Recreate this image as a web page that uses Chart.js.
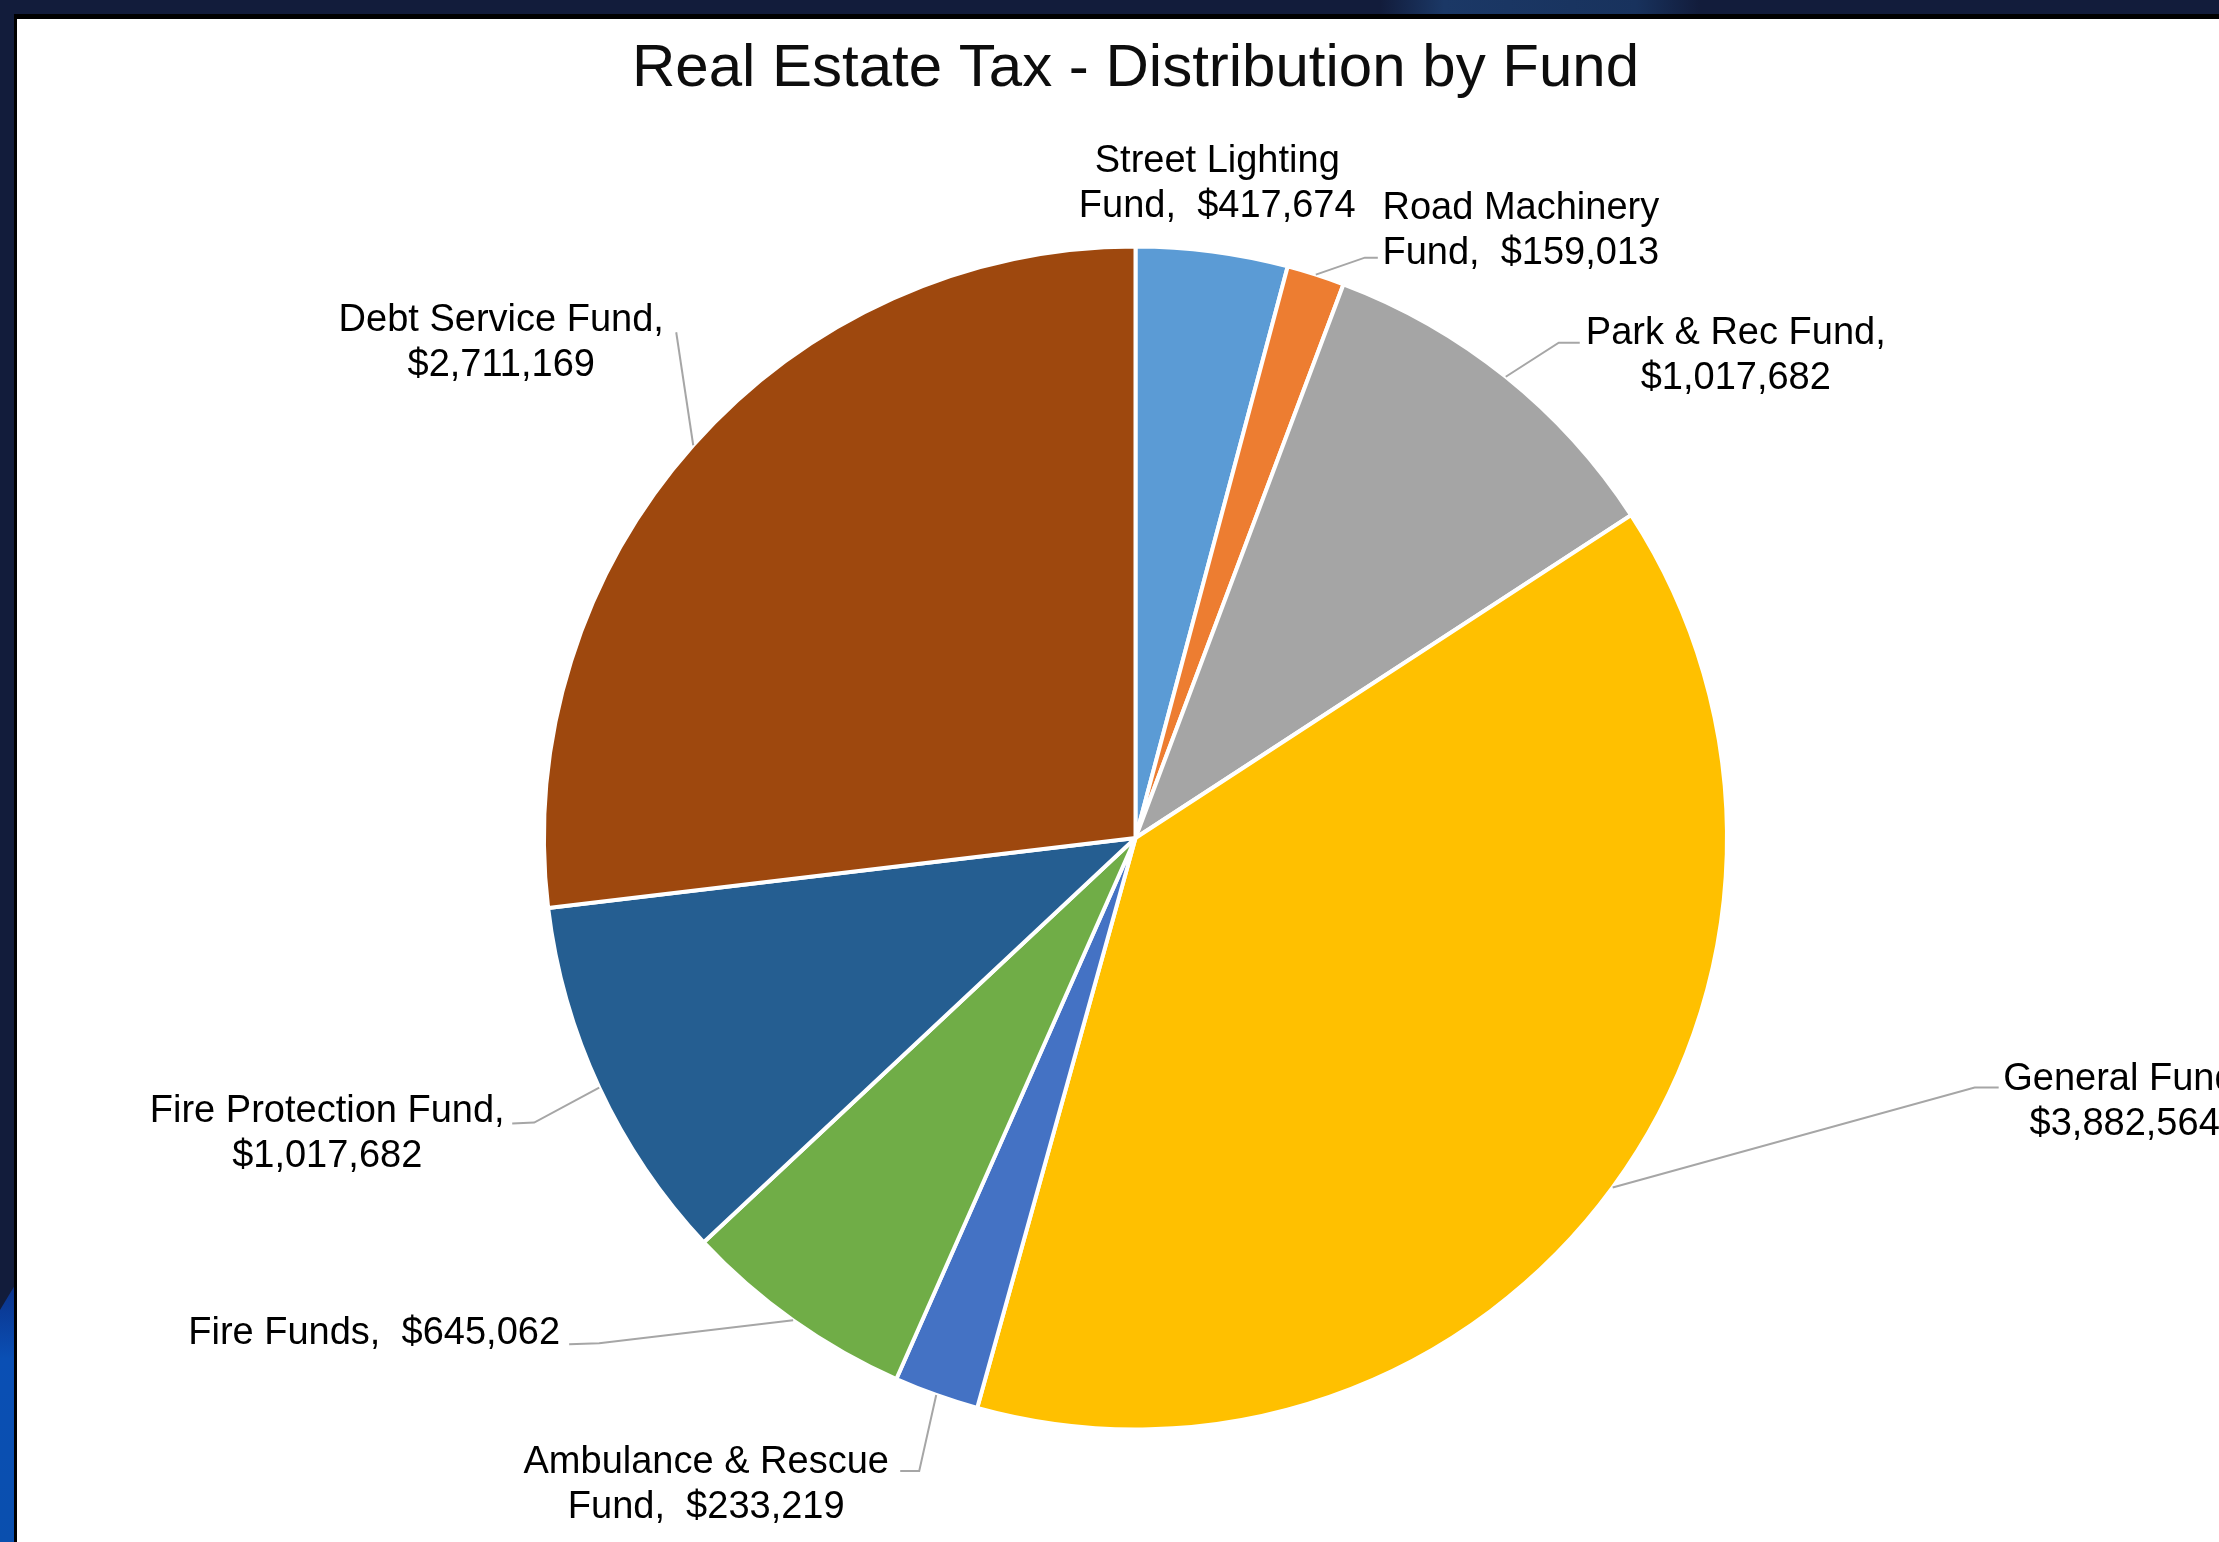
<!DOCTYPE html>
<html>
<head>
<meta charset="utf-8">
<script src="https://cdn.jsdelivr.net/npm/chart.js@4.4.1/dist/chart.umd.min.js"></script>
<style>
  html, body { margin: 0; padding: 0; background: #121c3b; }
  #wrap { width: 2219px; height: 1542px; }
</style>
</head>
<body>
<div id="wrap"><canvas id="myChart" width="2219" height="1542"></canvas></div>
<script>
var funds = ["Street Lighting Fund", "Road Machinery Fund", "Park & Rec Fund", "General Fund",
             "Ambulance & Rescue Fund", "Fire Funds", "Fire Protection Fund", "Debt Service Fund"];
var amounts = [417674, 159013, 1017682, 3882564, 233219, 645062, 1017682, 2711169];
var sliceColors = ["#5B9BD5", "#ED7D31", "#A5A5A5", "#FFC000", "#4472C4", "#70AD47", "#255E91", "#9E480E"];

// where each data label goes, measured from the middle of its slice's outer edge
// words = how many words stay on the first line (0 = one line)
var labelPlaces = [
  {words: 2, dx: 5,    dy: -70,  leader: []},
  {words: 2, dx: 205,  dy: -47,  leader: [[49, -17], [62, -17]]},
  {words: 4, dx: 230,  dy: -24,  leader: [[53, -34], [74, -34]]},
  {words: 2, dx: 512,  dy: -89,  leader: [[362, -100], [386, -100]]},
  {words: 3, dx: -230, dy: 87,   leader: [[-17, 76], [-36, 76]]},
  {words: 0, dx: -419, dy: 10,   leader: [[-194, 23], [-224, 24]]},
  {words: 3, dx: -272, dy: 43,   leader: [[-65, 35], [-87, 36]]},
  {words: 3, dx: -192, dy: -105, leader: [[-17, -113]]}
];

var fontFamily = "'Liberation Sans', Arial, sans-serif";

function money(v) {
  return "$" + v.toLocaleString("en-US");
}

// slide frame + white chart panel
var framePlugin = {
  id: "frame",
  beforeDraw: function(chart) {
    var ctx = chart.ctx, w = chart.width, h = chart.height;
    ctx.save();
    ctx.fillStyle = "#121c3b";
    ctx.fillRect(0, 0, w, h);
    var band = ctx.createLinearGradient(1380, 0, 1700, 0);
    band.addColorStop(0, "#121c3b");
    band.addColorStop(0.2, "#1b3866");
    band.addColorStop(0.8, "#18325d");
    band.addColorStop(1, "#121c3b");
    ctx.fillStyle = band;
    ctx.fillRect(1380, 0, 320, 15);
    var blue = ctx.createLinearGradient(0, 1280, 0, h);
    blue.addColorStop(0, "#0b2f86");
    blue.addColorStop(0.3, "#0a4fb4");
    blue.addColorStop(1, "#0a4fae");
    ctx.fillStyle = blue;
    ctx.beginPath();
    ctx.moveTo(0, 1310);
    ctx.lineTo(15, 1285);
    ctx.lineTo(15, h);
    ctx.lineTo(0, h);
    ctx.closePath();
    ctx.fill();
    ctx.fillStyle = "#000000";
    ctx.fillRect(14, 14, w - 14, h - 14);
    ctx.fillStyle = "#ffffff";
    ctx.fillRect(17, 19, w - 17, h - 19);
    ctx.restore();
  }
};

// data labels with leader lines, placed off each arc's edge
var labelPlugin = {
  id: "fundLabels",
  afterDatasetsDraw: function(chart) {
    var ctx = chart.ctx;
    var arcs = chart.getDatasetMeta(0).data;
    ctx.save();
    ctx.font = "38px " + fontFamily;
    ctx.textAlign = "center";
    ctx.textBaseline = "middle";
    arcs.forEach(function(arc, i) {
      var p = arc.getProps(["x", "y", "startAngle", "endAngle", "outerRadius"], true);
      var mid = (p.startAngle + p.endAngle) / 2;
      var ex = p.x + Math.cos(mid) * p.outerRadius;
      var ey = p.y + Math.sin(mid) * p.outerRadius;
      var place = labelPlaces[i];

      if (place.leader.length) {
        ctx.strokeStyle = "#a6a6a6";
        ctx.lineWidth = 2;
        ctx.beginPath();
        ctx.moveTo(ex, ey);
        place.leader.forEach(function(pt) { ctx.lineTo(ex + pt[0], ey + pt[1]); });
        ctx.stroke();
      }

      var text = funds[i] + ",  " + money(amounts[i]);
      var lines = [text];
      if (place.words > 0) {
        var tokens = text.split(" ");
        lines = [tokens.slice(0, place.words).join(" "), tokens.slice(place.words).join(" ").trim()];
      }
      var lh = 45;
      var cx = ex + place.dx, cy = ey + place.dy + 3;
      var y0 = cy - (lines.length - 1) * lh / 2;
      ctx.fillStyle = "#000000";
      lines.forEach(function(line, k) {
        ctx.fillText(line, cx, y0 + k * lh);
      });
    });
    ctx.restore();
  }
};

new Chart("myChart", {
  type: "pie",
  data: {
    labels: funds,
    datasets: [{
      data: amounts,
      backgroundColor: sliceColors,
      borderColor: "#ffffff",
      borderWidth: 4
    }]
  },
  options: {
    responsive: false,
    animation: false,
    layout: {
      padding: {left: 542, right: 490, top: 0, bottom: 110}
    },
    plugins: {
      legend: {display: false},
      tooltip: {enabled: false},
      title: {
        display: true,
        text: "Real Estate Tax - Distribution by Fund",
        color: "#0d0d0d",
        font: {family: fontFamily, size: 60, weight: "normal"},
        padding: {top: 33, bottom: 139}
      }
    }
  },
  plugins: [framePlugin, labelPlugin]
});
</script>
</body>
</html>
